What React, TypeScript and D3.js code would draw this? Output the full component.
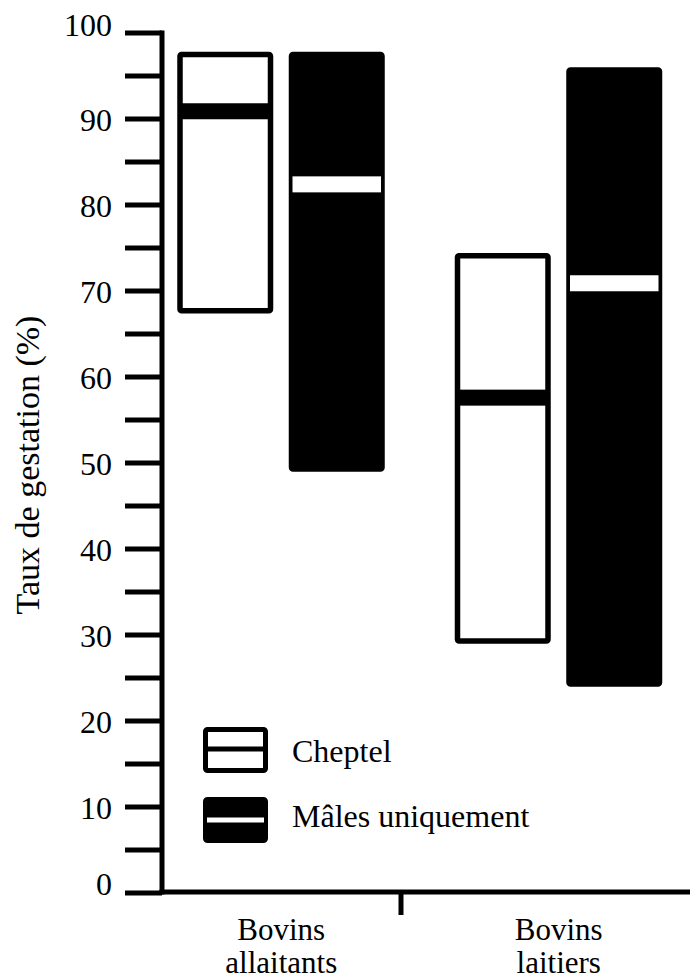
import React from "react";
import * as d3 from "d3";

const categories = ["Bovins allaitants", "Bovins laitiers"];
const categoryLines = [["Bovins", "allaitants"], ["Bovins", "laitiers"]];
const series = ["Cheptel", "Mâles uniquement"];
// [min, median, max] per category for each series
const cheptelMin = [67.7, 29.3];
const cheptelMed = [90.9, 57.6];
const cheptelMax = [97.5, 74.1];
const malesMin = [49.3, 24.3];
const malesMed = [82.4, 70.9];
const malesMax = [97.5, 95.7];
const yTicksMajor = [0, 10, 20, 30, 40, 50, 60, 70, 80, 90, 100];
const yTicksAll = d3.range(0, 101, 5);
const yTitle = "Taux de gestation (%)";

const W = 690;
const H = 980;
const FONT = '"Liberation Serif"';

export default function App() {
  const y = d3.scaleLinear().domain([0, 100]).range([893, 33]);
  const x = d3.scaleBand().domain(categories).range([142.5, 697.5]).padding(0);
  const inner = d3.scaleBand().domain(series).range([27, 250]).padding(0);
  const barW = 90.5;
  const sw = 5.5;
  const bandH = 16;
  const axisX = 162;
  const axisY = 892;
  const ts = { fontFamily: FONT };

  const data = categories.map((c, i) => ({
    cat: c,
    boxes: [
      { s: series[0], min: cheptelMin[i], med: cheptelMed[i], max: cheptelMax[i], fill: "#fff", band: "#000" },
      { s: series[1], min: malesMin[i], med: malesMed[i], max: malesMax[i], fill: "#000", band: "#fff" },
    ],
  }));

  return (
    <svg
      width={W}
      height={H}
      style={{ position: "absolute", left: 0, top: 0, background: "#fff" }}
    >
      <rect x={0} y={0} width={W} height={H} fill="#fff" />
      {/* Y axis title */}
      <text
        transform={`translate(39, 465) rotate(-90)`}
        textAnchor="middle"
        fontSize={34}
        fill="#000"
        style={ts}
      >
        {yTitle}
      </text>
      {/* Y ticks */}
      {yTicksAll.map((t) => (
        <line key={"t" + t} x1={125} x2={axisX} y1={y(t)} y2={y(t)} stroke="#000" strokeWidth={5} />
      ))}
      {yTicksMajor.map((t) => (
        <text
          key={"l" + t}
          x={112}
          y={y(t) + (t === 0 ? -9 : t === 100 ? -8 : 1)}
          textAnchor="end"
          dominantBaseline="central"
          fontSize={32}
          fill="#000"
          style={ts}
        >
          {t}
        </text>
      ))}
      {/* axes */}
      <line x1={axisX} x2={axisX} y1={y(100) - 2.5} y2={axisY + 2.5} stroke="#000" strokeWidth={5} />
      <line x1={axisX - 2.5} x2={W} y1={axisY} y2={axisY} stroke="#000" strokeWidth={5} />
      <line x1={401} x2={401} y1={axisY} y2={915} stroke="#000" strokeWidth={5} />
      {/* boxes */}
      {data.map((g) => (
        <g key={g.cat} transform={`translate(${x(g.cat)},0)`}>
          {g.boxes.map((b) => {
            const cx = (inner(b.s) as number) + inner.bandwidth() / 2;
            return (
              <g key={b.s}>
                <rect
                  x={cx - barW / 2}
                  y={y(b.max)}
                  width={barW}
                  height={y(b.min) - y(b.max)}
                  fill={b.fill}
                  stroke="#000"
                  strokeWidth={sw}
                  rx={1.5}
                />
                <rect
                  x={cx - barW / 2 + (b.fill === "#000" ? 1 : 0)}
                  y={y(b.med) - bandH / 2}
                  width={barW - (b.fill === "#000" ? 2 : 0)}
                  height={bandH}
                  fill={b.band}
                />
              </g>
            );
          })}
        </g>
      ))}
      {/* category labels */}
      {categories.map((c, i) => {
        const cx = (x(c) as number) + x.bandwidth() / 2;
        return (
          <text key={c} x={cx} textAnchor="middle" fontSize={31} fill="#000" style={ts}>
            <tspan x={cx} y={940}>{categoryLines[i][0]}</tspan>
            <tspan x={cx} y={973}>{categoryLines[i][1]}</tspan>
          </text>
        );
      })}
      {/* legend */}
      <g>
        <rect x={205.5} y={729.5} width={60} height={41} fill="#fff" stroke="#000" strokeWidth={5} rx={2} />
        <line x1={205.5} x2={265.5} y1={749} y2={749} stroke="#000" strokeWidth={5} />
        <text x={292} y={762} fontSize={32} fill="#000" style={ts}>{series[0]}</text>
        <rect x={205.5} y={799.5} width={60} height={41} fill="#000" stroke="#000" strokeWidth={5} rx={2} />
        <line x1={207} x2={264} y1={820} y2={820} stroke="#fff" strokeWidth={5} />
        <text x={292} y={827} fontSize={32} fill="#000" style={ts}>{series[1]}</text>
      </g>
    </svg>
  );
}
